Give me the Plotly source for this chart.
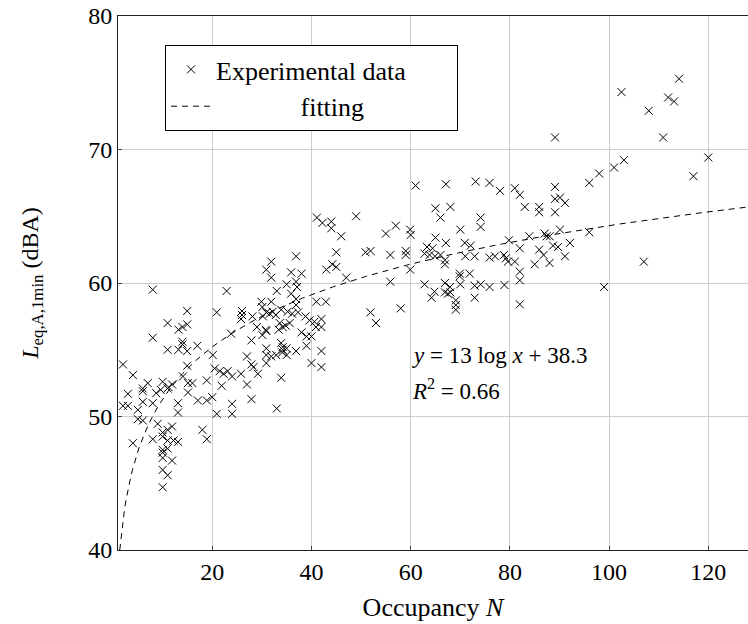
import numpy as np
import plotly.graph_objects as go

# Experimental data: occupancy N and L_eq,A,1min (dBA)
occupancy = [
    8.0, 14.95, 20.9, 22.9, 11.0, 13.2, 14.0, 14.95, 8.0, 14.0, 11.0, 13.2, 14.0, 14.95, 17.0, 20.1,
    14.95, 2.0, 4.0, 14.1, 7.0, 6.0, 10.0, 11.2, 11.9, 11.0, 15.1, 16.0, 18.9, 21.9, 3.0, 6.0,
    8.7, 9.6, 15.1, 17.1, 18.9, 20.0, 6.0, 2.0, 3.0, 8.0, 13.1, 13.1, 5.0, 20.9, 5.0, 6.0,
    9.0, 10.0, 11.0, 11.9, 4.0, 8.0, 10.0, 11.0, 12.2, 13.1, 18.0, 18.9, 10.0, 11.0, 10.0, 10.0,
    11.9, 10.0, 11.0, 10.0,
    36.9, 31.9, 30.9, 31.9, 35.9, 38.0, 43.0, 35.0, 36.9, 37.1, 33.0, 35.9, 36.9, 36.9, 41.0, 42.9,
    29.9, 31.9, 26.0, 26.0, 30.1, 30.9, 31.6, 32.2, 33.9, 35.2, 36.1, 37.3, 25.8, 28.1, 30.2, 32.8,
    33.6, 34.8, 35.6, 38.8, 39.6, 40.6, 42.0, 29.0, 30.8, 33.4, 34.2, 38.0, 39.0, 40.0, 42.0, 30.1,
    30.9, 23.8, 27.9, 30.9, 30.9, 30.9, 31.9, 32.9, 33.9, 34.2, 35.0, 34.1, 35.0, 34.2, 36.9, 39.0,
    42.0, 40.0, 42.0, 27.0, 27.9, 28.3, 29.2, 20.5, 21.5, 22.3, 23.1, 24.0, 25.8, 27.0, 33.9, 27.9,
    24.0, 24.0, 33.0,
    61.0, 41.1, 42.2, 44.0, 44.0, 49.0, 46.0, 55.0, 57.0, 59.9, 60.0, 45.0, 50.9, 51.9, 55.9, 59.0,
    59.0, 44.2, 45.0, 47.0, 59.9, 55.9, 51.9, 53.0, 58.0, 40.9,
    67.1, 73.1, 75.9, 78.0, 81.0, 82.0, 65.0, 66.0, 68.0, 74.1, 74.1, 70.0, 83.0, 85.9, 85.9, 65.0,
    63.3, 64.4, 67.1, 62.8, 63.8, 64.9, 66.0, 66.9, 66.9, 70.9, 72.1, 71.0, 72.9, 75.9, 77.0, 78.8,
    79.2, 79.6, 81.0, 79.8, 82.0, 83.9, 87.0, 87.4, 82.0, 82.0, 85.0, 85.9, 86.8, 69.9, 71.9, 69.9,
    62.8, 64.8, 66.9, 67.9, 64.2, 66.9, 67.5, 68.0, 70.0, 72.9, 74.1, 75.9, 78.9, 69.1, 69.1, 69.1,
    72.9, 82.0,
    89.1, 101.0, 103.0, 98.0, 96.0, 89.1, 89.1, 90.1, 91.1, 89.1, 90.1, 96.0, 88.0, 92.1, 89.7, 88.7,
    91.1, 88.0, 107.0, 99.0,
    102.5, 114.1, 111.9, 113.1, 108.0, 110.9, 120.0, 117.0,
]
leq = [
    59.5, 57.9, 57.8, 59.4, 57.0, 56.5, 56.7, 56.9, 55.9, 55.6, 55.0, 55.0, 55.4, 54.9, 55.3, 54.6,
    53.8, 53.9, 53.1, 53.0, 52.5, 52.1, 52.6, 52.2, 52.4, 52.1, 52.5, 52.5, 52.7, 52.3, 51.7, 51.9,
    51.75, 52.0, 51.8, 51.2, 51.2, 51.45, 51.1, 50.8, 50.8, 51.0, 51.0, 50.3, 50.5, 50.2, 49.8, 49.7,
    49.45, 48.8, 49.0, 49.25, 48.0, 48.3, 48.5, 48.2, 48.2, 48.1, 49.0, 48.3, 47.5, 47.6, 47.3, 46.9,
    46.7, 46.0, 45.6, 44.7,
    62.0, 61.6, 61.0, 60.4, 60.8, 60.7, 61.0, 59.9, 60.1, 59.7, 59.4, 59.2, 58.8, 58.35, 58.6, 58.6,
    58.6, 58.6, 57.9, 57.6, 58.2, 57.8, 57.7, 57.85, 58.0, 57.85, 57.7, 57.8, 57.3, 57.5, 57.5, 57.6,
    57.0, 56.8, 57.0, 57.5, 57.2, 57.1, 57.3, 56.7, 56.5, 56.5, 56.7, 56.3, 56.0, 56.0, 56.7, 56.1,
    56.4, 56.2, 55.7, 55.1, 54.6, 54.0, 54.5, 54.6, 55.5, 55.2, 55.1, 54.8, 54.6, 55.0, 54.9, 55.3,
    54.9, 54.0, 53.7, 54.5, 53.9, 53.7, 53.2, 53.6, 53.4, 53.2, 53.4, 53.0, 53.2, 52.4, 52.9, 51.3,
    50.95, 50.2, 50.6,
    67.3, 64.9, 64.5, 64.6, 64.1, 65.0, 63.5, 63.7, 64.3, 64.0, 63.6, 62.3, 62.3, 62.4, 62.1, 62.4,
    62.1, 61.4, 61.2, 60.4, 61.0, 60.1, 57.8, 57.0, 58.1, 56.7,
    67.4, 67.6, 67.5, 66.9, 67.1, 66.6, 65.6, 64.9, 65.7, 64.9, 64.2, 64.0, 65.7, 65.7, 65.3, 63.4,
    62.7, 62.6, 63.0, 62.2, 62.1, 62.0, 62.1, 61.7, 61.4, 63.0, 62.8, 62.0, 62.0, 61.9, 62.0, 62.1,
    61.85, 61.6, 61.6, 63.2, 62.6, 63.5, 63.7, 63.5, 60.85, 60.2, 61.4, 62.5, 62.1, 60.7, 60.7, 60.5,
    59.9, 59.35, 60.0, 59.7, 58.9, 59.3, 59.2, 59.3, 59.9, 59.8, 59.9, 59.7, 59.85, 58.7, 58.35, 58.0,
    58.9, 58.4,
    70.9, 68.65, 69.2, 68.2, 67.5, 67.2, 66.3, 66.4, 66.0, 65.3, 64.0, 63.8, 63.5, 63.0, 62.7, 62.8,
    62.0, 61.5, 61.6, 59.7,
    74.3, 75.3, 73.9, 73.6, 72.9, 70.9, 69.4, 68.0,
]

# Fitted model: y = a*log10(x) + b
fit_a = 13.0
fit_b = 38.3
x_range = [1, 128]
y_range = [40, 80]
x_ticks = [20, 40, 60, 80, 100, 120]
y_ticks = [40, 50, 60, 70, 80]

x_fit = np.linspace(10 ** ((40 - fit_b) / fit_a), x_range[1], 400)
y_fit = fit_a * np.log10(x_fit) + fit_b

FONT = "Liberation Serif"
FS = 24
NB = "\u00a0"

fig = go.Figure()
fig.add_trace(go.Scatter(
    x=occupancy, y=leq, mode="markers", name="Experimental data" + NB * 7,
    marker=dict(symbol="x-thin-open", size=8, color="black",
                line=dict(color="black", width=1)),
))
fig.add_trace(go.Scatter(
    x=x_fit, y=y_fit, mode="lines",
    name=NB * 13 + "fitting",
    line=dict(color="black", width=1, dash="6px,5px"),
))

fig.add_annotation(x=59.8, y=54.6, xref="x", yref="y", xanchor="left", yanchor="middle",
                   text="<i>y</i> = 13 log <i>x</i> + 38.3", showarrow=False,
                   font=dict(family=FONT, size=23, color="black"))
fig.add_annotation(x=59.8, y=52.0, xref="x", yref="y", xanchor="left", yanchor="middle",
                   text="<i>R</i><sup>2</sup> = 0.66", showarrow=False,
                   font=dict(family=FONT, size=23, color="black"))

axis_common = dict(
    showgrid=True, gridcolor="#cccccc", gridwidth=1,
    showline=True, linecolor="#222222", linewidth=1,
    ticks="inside", ticklen=4, tickcolor="#444444",
    zeroline=False, ticklabeloverflow="allow",
    tickfont=dict(family=FONT, size=FS, color="black"),
)

fig.update_xaxes(range=x_range, tickvals=x_ticks, mirror=True,
                 title=dict(text="Occupancy <i>N</i>", font=dict(family=FONT, size=26, color="black"),
                            standoff=14),
                 **axis_common)
fig.update_yaxes(range=y_range, tickvals=y_ticks, mirror=False,
                 title=dict(text="<i>L</i><sub>eq,A,1min</sub> (dBA)",
                            font=dict(family=FONT, size=FS, color="black"), standoff=42),
                 **axis_common)

fig.update_layout(
    width=748, height=624,
    margin=dict(l=118, r=0, t=16, b=74),
    paper_bgcolor="white", plot_bgcolor="white",
    font=dict(family=FONT, size=FS, color="black"),
    showlegend=True,
    legend=dict(x=0.0746, y=0.9457, xanchor="left", yanchor="top",
                bgcolor="white", bordercolor="black", borderwidth=1,
                font=dict(family=FONT, size=26, color="black"),
                tracegroupgap=0, itemwidth=40),
)

fig.write_html("out.html", config={"displayModeBar": False},
               post_script="document.body.style.margin='0';")
